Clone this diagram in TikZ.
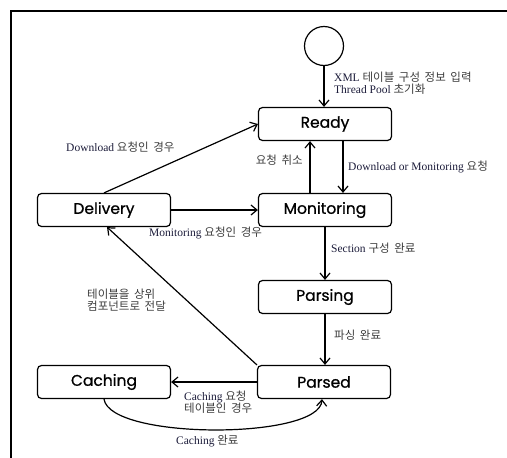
\documentclass[tikz,border=0pt]{standalone}
\usepackage{fontspec}
\setmainfont{Liberation Serif}
\newfontfamily\boxfont[FakeBold=0.8]{Poppins}
\newfontfamily\krfont{Noto Sans CJK KR}
\definecolor{entext}{RGB}{28,28,58}
\definecolor{krtext}{RGB}{60,60,60}
\newcommand{\kr}[1]{{\krfont\fontsize{11.5}{13}\selectfont\spaceskip=0.4em\color{krtext}#1}}
\usetikzlibrary{arrows.meta}
\begin{document}
\begin{tikzpicture}[x=1pt,y=-1pt,
  state/.style={draw, line width=1.2pt, rounded corners=4pt, minimum width=133pt, minimum height=33pt, inner sep=0pt, font=\boxfont\fontsize{15.5}{17}\selectfont},
  startnode/.style={draw, line width=1.2pt, circle, minimum size=39pt, inner sep=0pt},
  arr/.style={-{Straight Barb[length=6pt,width=10pt,line width=1.2pt]}, line width=1.2pt},
  lbl/.style={font=\fontsize{11.5}{12.5}\selectfont, text=entext, inner sep=0pt, align=left},
  frame/.style={line width=1.3pt}]
\useasboundingbox (0,0) rectangle (507,458);
\draw[frame] (11,458) -- (11,11) -- (507,11);

\node[startnode] (start) at (324,46) {};
\node[state] (ready) at (325,124) {Ready};
\node[state] (mon) at (325,210) {Monitoring};
\node[state] (pars) at (325,297) {Parsing};
\node[state] (parsed) at (324,382) {Parsed};
\node[state] (deliv) at (104,210) {Delivery};
\node[state] (cach) at (104,382) {Caching};

\draw[arr] (start.south) -- (start.south |- ready.north);
\draw[arr] ([xshift=-15pt]mon.north) -- ([xshift=-15pt]ready.south);
\draw[arr] ([xshift=18pt]ready.south) -- ([xshift=18pt]mon.north);
\draw[arr] (deliv.north) -- (ready.west);
\draw[arr] (deliv.east) -- (mon.west);
\draw[arr] (mon.south) -- (pars.north);
\draw[arr] (pars.south) -- ([xshift=1pt]parsed.north);
\draw[arr] (parsed.north west) -- ([xshift=3pt]deliv.south);
\draw[arr] (parsed.west) -- (cach.east);
\draw[arr] (cach.south) .. controls (110,440) and (320,440) .. ([xshift=-2pt]parsed.south);

\node[lbl, anchor=west] (l1) at (334,83) {XML \kr{테이블 구성 정보 입력}\\Thread Pool \kr{초기화}};
\node[lbl, anchor=east] (l2) at (303,160) {\kr{요청 취소}};
\node[lbl, anchor=west] (l3) at (348,167) {Download or Monitoring \kr{요청}};
\node[lbl, anchor=west] (l4) at (66,147) {Download \kr{요청인 경우}};
\node[lbl, anchor=west] (l5) at (149,233) {Monitoring \kr{요청인 경우}};
\node[lbl, anchor=west] (l6) at (331,248) {Section \kr{구성 완료}};
\node[lbl, anchor=west] (l7) at (334,335) {\kr{파싱 완료}};
\node[lbl, anchor=west] (l8) at (87,300) {\kr{테이블을 상위}\\\kr{컴포넌트로 전달}};
\node[lbl, anchor=west] (l9) at (184,402) {Caching \kr{요청}\\\kr{테이블인 경우}};
\node[lbl, anchor=west] (l10) at (176,441) {Caching \kr{완료}};
\end{tikzpicture}
\end{document}
